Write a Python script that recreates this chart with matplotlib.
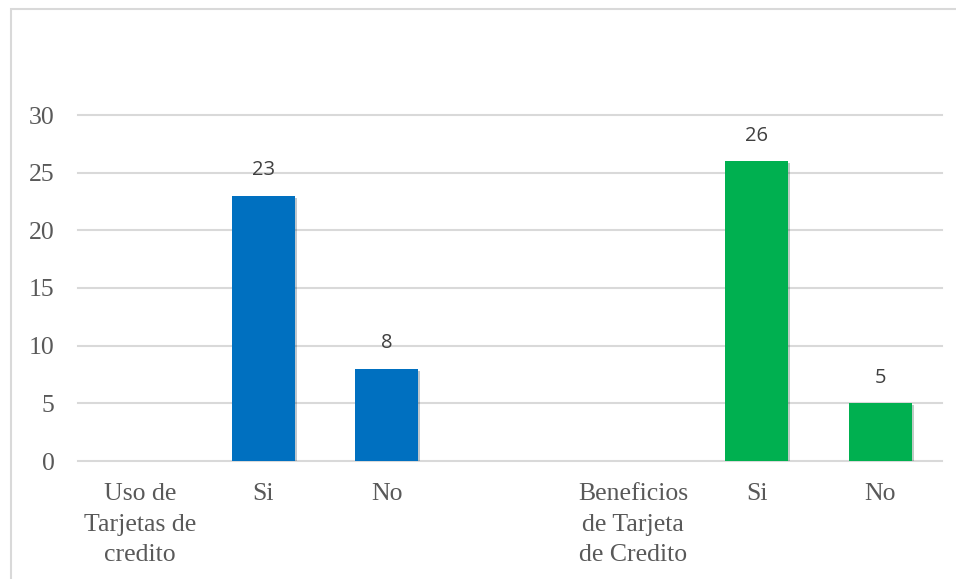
import matplotlib.pyplot as plt
import matplotlib.patheffects as pe
from matplotlib.patches import Rectangle

# categories along the x axis (blank slot separates the two groups)
categories = ["Uso de\nTarjetas de\ncredito", "Si", "No", "",
              "Beneficios\nde Tarjeta\nde Credito", "Si", "No"]
# values; None means no bar in that slot
values = [None, 23, 8, None, None, 26, 5]
bar_colors = [None, "#0070C0", "#0070C0", None, None, "#00B050", "#00B050"]
y_ticks = [0, 5, 10, 15, 20, 25, 30]

text_color = "#595959"
grid_color = "#D9D9D9"

plt.rcParams["font.family"] = ["Liberation Serif", "DejaVu Serif"]


def main():
    fig = plt.figure(figsize=(9.56, 5.79), dpi=100)
    ax = fig.add_axes([78 / 956, 1 - 461 / 579, 864 / 956, 346 / 579])

    # chart border (runs off the right and bottom edges)
    fig.patches.append(Rectangle((11 / 956, -0.05), 1.2, 1 - 9 / 579 + 0.05,
                                 transform=fig.transFigure, fill=False,
                                 edgecolor=grid_color, lw=1.5))

    for i, v in enumerate(values):
        if v is None:
            continue
        bar = ax.bar(i, v, width=0.51, color=bar_colors[i], zorder=3)
        bar[0].set_path_effects([pe.SimplePatchShadow(offset=(1.5, -1.5), alpha=0.25),
                                 pe.Normal()])
        ax.annotate(str(v), (i, v), xytext=(0, 11), textcoords="offset points",
                    ha="center", va="bottom", fontsize=14.5, color="#404040",
                    family=["Open Sans", "DejaVu Sans"])

    ax.set_xlim(-0.5, len(categories) - 0.5)
    ax.set_ylim(0, 30)
    ax.set_yticks(y_ticks)
    for y in y_ticks:
        ax.axhline(y, color=grid_color, lw=1.5, zorder=1, clip_on=False)

    ax.set_xticks(range(len(categories)))
    ax.set_xticklabels(categories, fontsize=18.5, color=text_color, linespacing=1.5)
    ax.tick_params(axis="x", length=0, pad=16)
    ax.tick_params(axis="y", length=0, pad=17, labelcolor=text_color, labelsize=18.5)

    for s in ax.spines.values():
        s.set_visible(False)

    fig.savefig("out.png", dpi=100)


if __name__ == "__main__":
    main()
